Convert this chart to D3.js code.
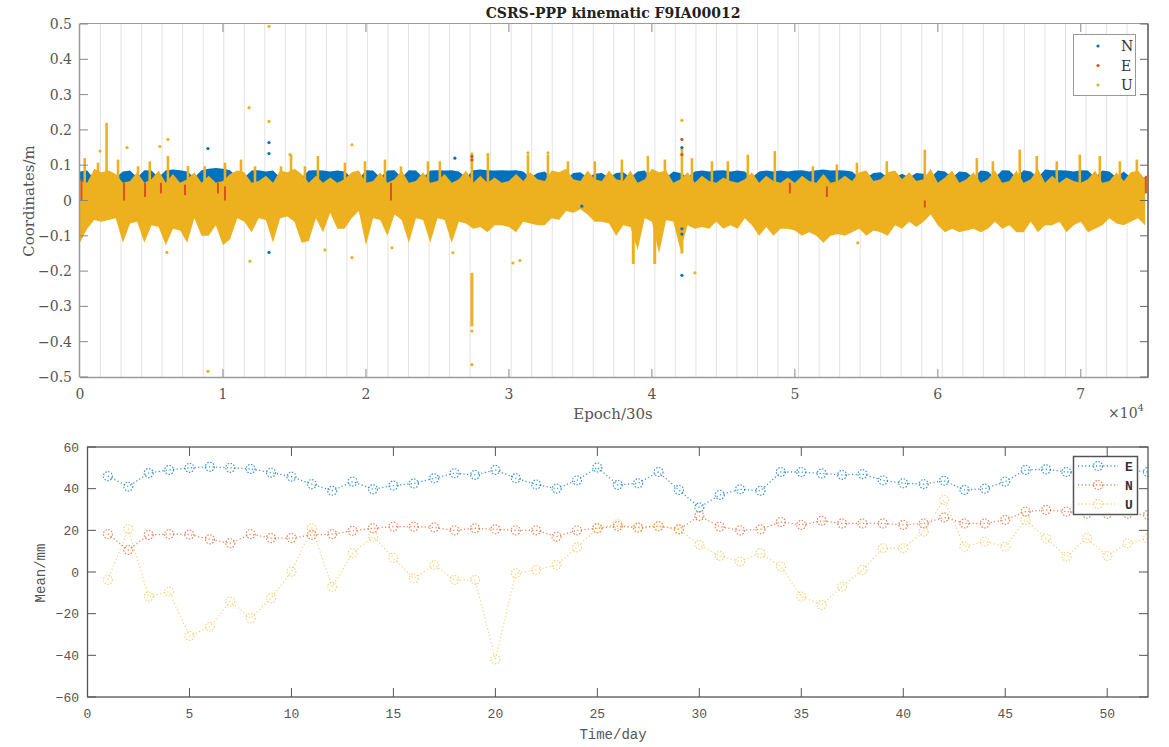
<!DOCTYPE html>
<html>
<head>
<meta charset="utf-8">
<script src="https://cdn.jsdelivr.net/npm/d3@7"></script>
<style>
  body { margin: 0; background: #fff; }
  svg { display: block; }
</style>
</head>
<body>
<svg id="chart" width="1169" height="747"></svg>
<script>
// ---------- top panel: kinematic coordinates (envelopes) ----------
const epochMax = 74700;          // last epoch of the series
const epochsPerDay = 1436;       // day boundaries drawn as grid lines
const dayCount = 52;
const binStep = 500;             // epoch spacing of the envelope samples

// lower envelope of U (m)
const uLo = [
  -0.12,-0.08,-0.055,-0.06,-0.055,-0.05,-0.12,-0.065,-0.06,-0.12,
  -0.07,-0.075,-0.127,-0.08,-0.085,-0.12,-0.05,-0.1,-0.1,-0.07,
  -0.127,-0.11,-0.05,-0.06,-0.09,-0.05,-0.055,-0.12,-0.05,-0.045,
  -0.06,-0.12,-0.115,-0.05,-0.09,-0.035,-0.08,-0.08,-0.05,-0.03,
  -0.127,-0.05,-0.055,-0.1,-0.04,-0.055,-0.12,-0.05,-0.055,-0.12,
  -0.05,-0.055,-0.12,-0.06,-0.065,-0.08,-0.075,-0.09,-0.07,-0.07,
  -0.075,-0.09,-0.06,-0.065,-0.07,-0.07,-0.05,-0.055,-0.03,-0.035,
  -0.025,-0.04,-0.06,-0.06,-0.065,-0.1,-0.07,-0.075,-0.14,-0.05,
  -0.06,-0.15,-0.055,-0.06,-0.14,-0.07,-0.08,-0.075,-0.08,-0.06,
  -0.08,-0.07,-0.08,-0.05,-0.07,-0.1,-0.075,-0.1,-0.08,-0.08,
  -0.085,-0.1,-0.09,-0.1,-0.12,-0.1,-0.095,-0.1,-0.09,-0.08,
  -0.1,-0.085,-0.09,-0.1,-0.07,-0.08,-0.06,-0.075,-0.06,-0.04,
  -0.07,-0.09,-0.08,-0.09,-0.085,-0.08,-0.09,-0.08,-0.06,-0.08,
  -0.07,-0.09,-0.09,-0.06,-0.09,-0.07,-0.07,-0.06,-0.09,-0.07,
  -0.06,-0.09,-0.08,-0.07,-0.05,-0.065,-0.07,-0.06,-0.05,-0.07
];
// upper edge of the dense U cloud (m)
const uHi = [
  0.055,0.05,0.09,0.08,0.085,0.075,0.05,0.055,0.08,0.05,
  0.06,0.085,0.05,0.075,0.05,0.06,0.08,0.05,0.07,0.05,
  0.055,0.075,0.085,0.08,0.05,0.055,0.07,0.05,0.085,0.08,
  0.09,0.075,0.05,0.07,0.05,0.065,0.05,0.06,0.08,0.085,
  0.05,0.055,0.08,0.05,0.06,0.085,0.05,0.055,0.08,0.05,
  0.055,0.075,0.05,0.06,0.085,0.05,0.07,0.05,0.065,0.05,
  0.055,0.075,0.055,0.08,0.06,0.055,0.085,0.08,0.09,0.06,
  0.055,0.085,0.06,0.055,0.085,0.06,0.055,0.085,0.05,0.06,
  0.09,0.08,0.085,0.05,0.06,0.08,0.05,0.07,0.055,0.05,
  0.065,0.055,0.05,0.06,0.08,0.05,0.07,0.055,0.05,0.065,
  0.05,0.07,0.055,0.05,0.075,0.05,0.055,0.07,0.055,0.08,
  0.085,0.055,0.06,0.08,0.085,0.06,0.08,0.055,0.06,0.09,
  0.05,0.065,0.085,0.05,0.06,0.08,0.05,0.06,0.085,0.05,
  0.055,0.085,0.05,0.06,0.09,0.05,0.07,0.05,0.065,0.055,
  0.05,0.06,0.085,0.05,0.055,0.08,0.055,0.08,0.085,0.06
];
// upper edge of N (m); N lies under U from nFloor upward
const nHi = [
  0.082,0.085,0.06,0.06,0.06,0.065,0.082,0.085,0.065,0.086,
  0.085,0.065,0.086,0.088,0.086,0.082,0.065,0.086,0.09,0.092,
  0.09,0.086,0.065,0.065,0.085,0.086,0.082,0.085,0.065,0.06,
  0.06,0.065,0.085,0.086,0.085,0.082,0.085,0.082,0.065,0.06,
  0.086,0.085,0.065,0.085,0.086,0.065,0.086,0.085,0.065,0.085,
  0.086,0.085,0.086,0.082,0.065,0.086,0.088,0.086,0.085,0.086,
  0.085,0.086,0.082,0.065,0.078,0.082,0.065,0.065,0.06,0.078,
  0.08,0.065,0.076,0.078,0.065,0.078,0.08,0.065,0.082,0.085,
  0.06,0.065,0.065,0.082,0.078,0.065,0.082,0.085,0.082,0.085,
  0.086,0.082,0.085,0.082,0.065,0.082,0.085,0.082,0.085,0.082,
  0.085,0.086,0.082,0.086,0.088,0.085,0.086,0.085,0.082,0.065,
  0.065,0.078,0.08,0.065,0.065,0.076,0.065,0.078,0.076,0.065,
  0.085,0.082,0.065,0.082,0.08,0.065,0.085,0.082,0.065,0.086,
  0.085,0.065,0.086,0.082,0.065,0.088,0.086,0.086,0.085,0.082,
  0.086,0.085,0.065,0.085,0.082,0.065,0.082,0.065,0.065,0.065
];
const nFloor = 0.045;
// thin upward U spikes [epoch, top]
const uSpikes = [
  [330,0.12],[1260,0.107],[1860,0.22],[2660,0.116],[4060,0.097],[4880,0.111],[6150,0.126],
  [7550,0.098],[8720,0.097],[10140,0.107],[11260,0.116],[12240,0.097],[14060,0.097],[14760,0.13],
  [15730,0.097],[16640,0.126],[18530,0.107],[19930,0.111],[21330,0.116],[22450,0.097],[24340,0.111],
  [25170,0.111],[27410,0.136],[28530,0.13],[31330,0.13],[32730,0.13],[34130,0.111],[36010,0.111],
  [37900,0.116],[39720,0.126],[40910,0.116],[42100,0.15],[42800,0.12],[44200,0.111],[45310,0.111],
  [46710,0.13],[48600,0.14],[51260,0.097],[52940,0.102],[54340,0.107],[56430,0.111],[59090,0.144],
  [62730,0.12],[63850,0.111],[65730,0.144],[66920,0.126],[68320,0.111],[69930,0.13],[71330,0.126],
  [72730,0.111],[73920,0.116]
];
// thin downward U columns [epoch, low, high]
const uColumns = [[27410,-0.357,-0.205],[38700,-0.18,-0.06],[40200,-0.18,-0.05],[42100,-0.15,-0.06]];
// E visible through the U cloud [epoch, low, high]
const eStreaks = [
  [100,0.0,0.06],[3080,0.0,0.05],[4550,0.01,0.05],[5660,0.02,0.05],[7340,0.015,0.045],
  [9650,0.02,0.05],[10140,0.0,0.04],[21750,0.0,0.05],[49650,0.02,0.05],[52240,0.01,0.04],
  [59090,-0.02,0.0],[74550,0.02,0.07]
];
// isolated points [epoch, value, series]
const outliers = [
  [1400,0.14,"U"],[3290,0.15,"U"],[5590,0.153,"U"],[6150,0.173,"U"],[11820,0.263,"U"],
  [13220,0.493,"U"],[13220,0.224,"U"],[14690,0.13,"U"],[19020,0.158,"U"],[28530,0.13,"U"],
  [31330,0.135,"U"],[32730,0.135,"U"],[42100,0.227,"U"],[6080,-0.147,"U"],[11890,-0.172,"U"],
  [17130,-0.14,"U"],[19020,-0.162,"U"],[8950,-0.484,"U"],[21820,-0.134,"U"],[26080,-0.148,"U"],
  [30280,-0.177,"U"],[30770,-0.17,"U"],[27410,-0.37,"U"],[27410,-0.465,"U"],[43010,-0.205,"U"],
  [54400,-0.12,"U"],
  [8950,0.147,"N"],[13220,0.164,"N"],[13220,0.133,"N"],[13220,-0.147,"N"],[26220,0.12,"N"],
  [27410,0.115,"E"],[27410,0.125,"E"],[42100,0.173,"E"],[42100,0.15,"N"],[42100,0.13,"E"],
  [42100,-0.212,"N"],[42100,-0.08,"N"],[42100,-0.095,"N"],[35100,-0.016,"N"]
];
const topTicksX = [0, 1, 2, 3, 4, 5, 6, 7];          // x 10^4
const topTicksY = [-0.5,-0.4,-0.3,-0.2,-0.1,0,0.1,0.2,0.3,0.4,0.5];

// ---------- bottom panel: daily means (mm) ----------
const days = d3.range(1, 53);
const meanE = [46,41,47.5,49,50,50.5,50,49.5,47.7,45.8,42.2,39,43.4,39.7,41.5,42.5,45,47.4,46.6,49,
               45,42,40,44,50.2,41.8,42.6,48,39.4,31,37,39.7,39,48,48,47.3,46.6,47,44,42.6,
               42.2,43.8,39.4,40,43.4,49,49.3,48,48,49,49,48];
const meanN = [18.2,10.6,17.8,18.2,18,15.7,13.8,18.2,16.3,16.3,17.8,18.2,19.8,21,21.8,21.8,21.4,20,21,20.5,
               20,20,17,20,21,22,21.4,22,20.5,26.9,21.8,20,20.5,24,22.6,24.6,23.3,23.3,23.3,22.6,
               23.3,26.2,23.3,23.3,25,29,29.8,29,28,28,28,27.4];
const meanU = [-3.8,20.5,-11.8,-9.4,-30.7,-26.2,-14.2,-22.2,-12.6,0.2,21,-7,9,17,6.8,-3,3.4,-3.8,-3.8,-41.9,
               -0.6,1,3.4,11.8,21,23,21,22,20.5,13,7.7,5,9,2.6,-11.8,-15.8,-7,1,11.4,11.4,
               19.4,34.6,12.2,14.6,12.2,25,16.2,7.4,16.3,7.7,13.8,16.2];
const bottomTicksX = [0,5,10,15,20,25,30,35,40,45,50];
const bottomTicksY = [-60,-40,-20,0,20,40,60];

const colTop = { N: "#0072BD", E: "#D95319", U: "#EDB120" };
const colBot = { E: "#0072BD", N: "#D95319", U: "#EDB120" };

document.addEventListener("DOMContentLoaded", function () {
    drawTop();
    drawBottom();
});

function drawTop() {
    const svg = d3.select("#chart");
    const x = d3.scaleLinear().domain([0, epochMax]).range([80, 1148]);
    const y = d3.scaleLinear().domain([-0.5, 0.5]).range([377, 24]);
    const serif = "DejaVu Serif, Liberation Serif, serif";
    const bx = (d, i) => x(Math.min(i * binStep, epochMax));

    svg.append("clipPath").attr("id", "clipTop")
       .append("rect").attr("x", 80).attr("y", 24).attr("width", 1068).attr("height", 353);

    const g = svg.append("g").attr("clip-path", "url(#clipTop)");

    // day boundaries
    g.selectAll("line.day")
     .data(d3.range(1, dayCount))
     .enter().append("line")
     .attr("x1", d => x(d * epochsPerDay)).attr("x2", d => x(d * epochsPerDay))
     .attr("y1", 24).attr("y2", 377)
     .attr("stroke", "#e3e3e3").attr("stroke-width", 1);

    // N band
    g.append("path")
     .datum(nHi)
     .attr("fill", colTop.N)
     .attr("d", d3.area().x(bx).y0(y(nFloor)).y1(d => y(d)));

    // U cloud
    g.append("path")
     .datum(uLo)
     .attr("fill", colTop.U)
     .attr("d", d3.area().x(bx).y0(y(0.01)).y1(d => y(d)));
    g.append("path")
     .datum(uHi)
     .attr("fill", colTop.U)
     .attr("d", d3.area().x(bx).y0(y(-0.01)).y1(d => y(d)));

    g.selectAll("rect.spike")
     .data(uSpikes)
     .enter().append("rect")
     .attr("x", d => x(d[0]) - 1.3).attr("width", 2.6)
     .attr("y", d => y(d[1])).attr("height", d => y(0.05) - y(d[1]))
     .attr("fill", colTop.U);

    g.selectAll("rect.col")
     .data(uColumns)
     .enter().append("rect")
     .attr("x", d => x(d[0]) - 1.5).attr("width", 3)
     .attr("y", d => y(d[2])).attr("height", d => y(d[1]) - y(d[2]))
     .attr("fill", colTop.U);

    g.selectAll("rect.estreak")
     .data(eStreaks)
     .enter().append("rect")
     .attr("x", d => x(d[0]) - 1).attr("width", 2)
     .attr("y", d => y(d[2])).attr("height", d => y(d[1]) - y(d[2]))
     .attr("fill", colTop.E);

    g.selectAll("circle.out")
     .data(outliers)
     .enter().append("circle")
     .attr("cx", d => x(d[0])).attr("cy", d => y(d[1]))
     .attr("r", 1.6)
     .attr("fill", d => colTop[d[2]]);

    // box and ticks
    const ax = svg.append("g");
    ax.append("line").attr("x1", 80).attr("x2", 1148).attr("y1", 23.5).attr("y2", 23.5).attr("stroke", "#9a9a9a");
    ax.append("line").attr("x1", 80).attr("x2", 1148).attr("y1", 377.5).attr("y2", 377.5).attr("stroke", "#9a9a9a").attr("stroke-width", 1.5);
    ax.append("line").attr("x1", 79.5).attr("x2", 79.5).attr("y1", 23.5).attr("y2", 377.5).attr("stroke", "#9a9a9a").attr("stroke-width", 1.5);
    ax.append("line").attr("x1", 1148).attr("x2", 1148).attr("y1", 23.5).attr("y2", 377.5).attr("stroke", "#555").attr("stroke-width", 1.5);

    topTicksX.forEach(t => {
        const px = x(t * 1e4);
        if (t > 0) {
            ax.append("line").attr("x1", px).attr("x2", px).attr("y1", 377).attr("y2", 369).attr("stroke", "#888");
            ax.append("line").attr("x1", px).attr("x2", px).attr("y1", 24).attr("y2", 32).attr("stroke", "#888");
        }
        ax.append("text").attr("x", px).attr("y", 399)
          .attr("text-anchor", "middle").attr("font-family", serif).attr("font-size", 14)
          .attr("fill", "#555").text(t);
    });
    topTicksY.forEach(t => {
        const py = y(t);
        ax.append("line").attr("x1", 80).attr("x2", 88).attr("y1", py).attr("y2", py).attr("stroke", "#888");
        ax.append("line").attr("x1", 1148).attr("x2", 1140).attr("y1", py).attr("y2", py).attr("stroke", "#666");
        ax.append("text").attr("x", 72).attr("y", py + 5)
          .attr("text-anchor", "end").attr("font-family", serif).attr("font-size", 14)
          .attr("fill", "#555").text(d3.format("")(t));
    });

    svg.append("text").attr("x", 613).attr("y", 18)
       .attr("text-anchor", "middle").attr("font-family", serif).attr("font-weight", "bold")
       .attr("font-size", 14).attr("fill", "#222").text("CSRS-PPP kinematic F9IA00012");
    svg.append("text").attr("x", 613).attr("y", 419)
       .attr("text-anchor", "middle").attr("font-family", serif).attr("font-size", 15)
       .attr("fill", "#555").text("Epoch/30s");
    svg.append("text").attr("transform", "translate(34,201) rotate(-90)")
       .attr("text-anchor", "middle").attr("font-family", serif).attr("font-size", 15)
       .attr("fill", "#555").text("Coordinates/m");
    const pw = svg.append("text").attr("x", 1108).attr("y", 418)
       .attr("font-family", serif).attr("font-size", 14).attr("fill", "#555");
    pw.append("tspan").text("\u00d710");
    pw.append("tspan").attr("dy", -7).attr("font-size", 10).text("4");

    // legend
    const lg = svg.append("g");
    lg.append("rect").attr("x", 1073.5).attr("y", 34.5).attr("width", 62).attr("height", 61)
      .attr("fill", "#fff").attr("stroke", "#999");
    ["N", "E", "U"].forEach((k, i) => {
        lg.append("circle").attr("cx", 1098).attr("cy", 46 + i * 19.5).attr("r", 1.6).attr("fill", colTop[k]);
        lg.append("text").attr("x", 1121).attr("y", 51 + i * 19.5)
          .attr("font-family", serif).attr("font-size", 14).attr("fill", "#333").text(k);
    });
}

function drawBottom() {
    const svg = d3.select("#chart");
    const x = d3.scaleLinear().domain([0, 52]).range([87.5, 1148]);
    const y = d3.scaleLinear().domain([-60, 60]).range([697, 447]);
    const mono = "Liberation Mono, DejaVu Sans Mono, monospace";

    svg.append("clipPath").attr("id", "clipBot")
       .append("rect").attr("x", 87.5).attr("y", 447).attr("width", 1061).attr("height", 250);
    const g = svg.append("g").attr("clip-path", "url(#clipBot)");

    const series = [
        { key: "E", vals: meanE, op: 0.75 },
        { key: "N", vals: meanN, op: 0.7 },
        { key: "U", vals: meanU, op: 0.55 }
    ];
    const line = d3.line().x((d, i) => x(days[i])).y(d => y(d));

    series.forEach(s => {
        g.append("path").datum(s.vals)
         .attr("fill", "none").attr("stroke", colBot[s.key]).attr("stroke-width", 1.3)
         .attr("stroke-dasharray", "1.2,2.4").attr("opacity", s.op)
         .attr("d", line);
        g.selectAll("circle.m" + s.key)
         .data(s.vals).enter().append("circle")
         .attr("cx", (d, i) => x(days[i])).attr("cy", d => y(d)).attr("r", 4.5)
         .attr("fill", "none").attr("stroke", colBot[s.key]).attr("stroke-width", 1.2)
         .attr("stroke-dasharray", "1.5,1.5").attr("opacity", s.op);
    });

    const ax = svg.append("g");
    ax.append("rect").attr("x", 87.5).attr("y", 447).attr("width", 1060.5).attr("height", 250)
      .attr("fill", "none").attr("stroke", "#555").attr("stroke-width", 1.3);

    bottomTicksX.forEach(t => {
        const px = x(t);
        ax.append("line").attr("x1", px).attr("x2", px).attr("y1", 697).attr("y2", 688).attr("stroke", "#555");
        ax.append("line").attr("x1", px).attr("x2", px).attr("y1", 447).attr("y2", 456).attr("stroke", "#555");
        ax.append("text").attr("x", px).attr("y", 718)
          .attr("text-anchor", "middle").attr("font-family", mono).attr("font-size", 13)
          .attr("fill", "#555").text(t);
    });
    bottomTicksY.forEach(t => {
        const py = y(t);
        ax.append("line").attr("x1", 87.5).attr("x2", 96).attr("y1", py).attr("y2", py).attr("stroke", "#555");
        ax.append("line").attr("x1", 1148).attr("x2", 1139).attr("y1", py).attr("y2", py).attr("stroke", "#555");
        ax.append("text").attr("x", 79).attr("y", py + 4.5)
          .attr("text-anchor", "end").attr("font-family", mono).attr("font-size", 13)
          .attr("fill", "#555").text(d3.format("")(t));
    });

    svg.append("text").attr("x", 613).attr("y", 739)
       .attr("text-anchor", "middle").attr("font-family", mono).attr("font-size", 14)
       .attr("fill", "#555").text("Time/day");
    svg.append("text").attr("transform", "translate(45,573) rotate(-90)")
       .attr("text-anchor", "middle").attr("font-family", mono).attr("font-size", 14)
       .attr("fill", "#555").text("Mean/mm");

    // legend
    const lg = svg.append("g");
    lg.append("rect").attr("x", 1073.5).attr("y", 456.5).attr("width", 64).attr("height", 58)
      .attr("fill", "#fff").attr("stroke", "#555").attr("stroke-width", 1.5);
    series.forEach((s, i) => {
        const ly = 466 + i * 19;
        lg.append("line").attr("x1", 1078).attr("x2", 1118).attr("y1", ly).attr("y2", ly)
          .attr("stroke", colBot[s.key]).attr("stroke-width", 1.3).attr("stroke-dasharray", "1.2,2.4")
          .attr("opacity", s.op);
        lg.append("circle").attr("cx", 1098).attr("cy", ly).attr("r", 4.5)
          .attr("fill", "none").attr("stroke", colBot[s.key]).attr("stroke-width", 1.2)
          .attr("stroke-dasharray", "1.5,1.5").attr("opacity", s.op);
        lg.append("text").attr("x", 1125).attr("y", ly + 4.5)
          .attr("font-family", mono).attr("font-weight", "bold").attr("font-size", 13)
          .attr("fill", "#333").text(s.key);
    });
}
</script>
</body>
</html>
